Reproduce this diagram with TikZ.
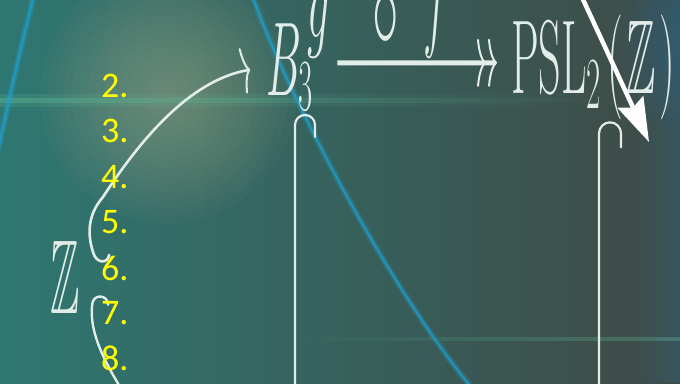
\RequirePackage{fix-cm}
\documentclass[tikz,border=0pt]{standalone}
\usepackage{amsmath,amssymb,graphicx}
\usepackage{fontspec}
\newfontfamily\listfont{Carlito}
\usetikzlibrary{arrows.meta,fadings,calc}
\definecolor{bgteal}{HTML}{2F7771}
\definecolor{bgmid}{HTML}{3C6A5E}
\definecolor{bgdark}{HTML}{3F4A46}
\definecolor{glow}{HTML}{A8B090}
\definecolor{bluecast}{HTML}{2D6C8C}
\definecolor{streak}{HTML}{1EA2D2}
\definecolor{band}{HTML}{5DB894}
\definecolor{chalk}{HTML}{E2ECE8}
\definecolor{numyel}{HTML}{FFFF00}
\tikzset{
  sym/.style={text=chalk,font=\fontsize{105}{110}\selectfont,inner sep=0pt,xscale=0.42,anchor=base west},
  num/.style={text=numyel,font=\listfont\fontsize{36}{36}\selectfont,inner sep=0pt,anchor=west},
  hookarr/.style={draw=chalk,line width=2.2pt,line cap=round},
  curarr/.style={draw=chalk,line width=2.6pt,line cap=round,-{To[length=8pt,width=46pt,line width=2pt]},shorten >=16pt},
  tailarr/.style={draw=chalk,line width=2.4pt,line cap=round},
  dblarr/.style={draw=chalk,line width=5pt,-{To[length=9pt,width=48pt,line width=2pt,sep=2pt]To[length=9pt,width=48pt,line width=2pt]},shorten <=24pt,shorten >=14pt},
  diagarr/.style={draw=white,line width=4.5pt,-{Stealth[length=44pt,width=28pt,inset=6pt]}},
}
\begin{document}
\begin{tikzpicture}[x=1pt,y=-1pt]
  \useasboundingbox (0,0) rectangle (680,383);
  \clip (0,0) rectangle (680,383);
  % background
  \shade[left color=bgteal,middle color=bgmid,right color=bgdark] (0,0) rectangle (680,383);
  \foreach \r in {8,16,...,128} \fill[glow,opacity=0.045] (168,95) circle[radius=\r pt];
  \foreach \r in {10,20,...,90} \fill[bluecast,opacity=0.06] (695,40) circle[radius=\r pt];
  \fill[bluecast,opacity=0.35,path fading=west] (630,0) rectangle (680,383);
  \fill[band,opacity=0.4,path fading=east] (0,98) rectangle (620,103);
  \fill[band,opacity=0.2,path fading=east] (0,94) rectangle (620,107);
  \fill[band,opacity=0.35,path fading=west] (280,337) rectangle (680,341);
  \draw[streak,line width=6pt,opacity=0.3] (252,-5) .. controls (285,90) and (390,290) .. (472,388);
  \draw[streak,line width=2pt,opacity=0.7] (252,-5) .. controls (285,90) and (390,290) .. (472,388);
  \draw[streak,line width=6pt,opacity=0.35] (34,-5) .. controls (20,50) and (9,100) .. (-2,150);
  \draw[streak,line width=2pt,opacity=0.7] (34,-5) .. controls (20,50) and (9,100) .. (-2,150);
  % diagram
  \node[sym] (b3) at (266,95) {$B_{\scriptstyle 3}$};
  \node[sym] (psl) at (511,93) {$\mathrm{PSL}_{\scriptstyle 2}\kern15pt(\kern8pt\mathbb{Z}\kern8pt)$};
  \node[sym] (zz) at (50,313) {$\mathbb{Z}$};
  \node[sym] (gf) at (307,37) {$g\kern102pt{\raisebox{-11pt}{\scalebox{1.2}{$\circ$}}}\kern58pt f$};
  \coordinate (b3foot) at (295,400);
  \coordinate (pslfoot) at (599,400);
  \coordinate (zfoot) at (125,395);
  \coordinate (diagtop) at (574,-20);
  \coordinate (diagtip) at (649,142);
  \draw[dblarr] ([yshift=4pt]b3.east) -- ([yshift=4pt]psl.west);
  \draw[hookarr] (b3foot) -- ($(b3.south -| b3foot)+(0,14)$) arc[start angle=180,end angle=0,radius=10pt] -- ++(0,12);
  \draw[hookarr] (pslfoot) -- ($(psl.south -| pslfoot)+(0,14)$) arc[start angle=180,end angle=0,radius=11pt] -- ++(0,14);
  \draw[curarr] ([shift={(29.6pt,22pt)}]zz.east) .. controls (108,264) and (96,264) .. (93,252)
    .. controls (86,230) and (90,212) .. (103,197)
    .. controls (140,140) and (190,80) .. (b3.west);
  \draw[tailarr] ([shift={(28.6pt,-28pt)}]zz.east) .. controls (108,294) and (92,293) .. (92,306)
    .. controls (90,330) and (100,355) .. (zfoot);
  \draw[diagarr] (diagtop) -- (diagtip);
  % list
  \foreach \k/\yy in {2/86,3/131,4/177,5/222,6/268,7/313,8/358}
    \node[num] (n\k) at (101,\yy) {\k.};
\end{tikzpicture}
\end{document}
